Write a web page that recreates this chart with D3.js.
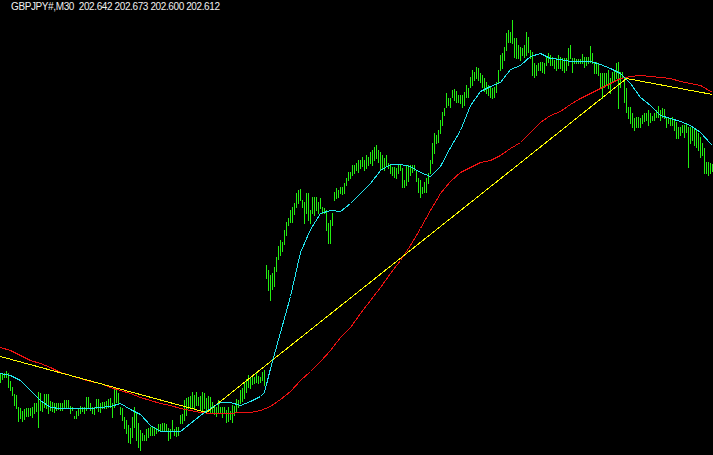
<!DOCTYPE html>
<html><head><meta charset="utf-8">
<script src="https://cdn.jsdelivr.net/npm/d3@7"></script>
<style>html,body{margin:0;padding:0;background:#000;overflow:hidden}</style>
</head><body>
<svg id="c" width="713" height="455"></svg>
<script>
const title = "GBPJPY#,M30  202.642 202.673 202.600 202.612";
const barHigh = [
200.58,200.58,200.58,200.60,200.58,200.50,200.44,200.37,200.36,200.24,
200.23,200.20,200.22,200.23,200.23,200.23,200.24,200.28,200.28,200.39,
200.38,200.29,200.37,200.37,200.37,200.30,200.29,200.28,200.28,200.28,
200.28,200.28,200.31,200.31,200.31,200.25,200.24,200.15,200.20,200.23,
200.25,200.24,200.24,200.34,200.34,200.28,200.24,200.24,200.32,200.32,
200.28,200.29,200.29,200.30,200.32,200.33,200.28,200.44,200.43,200.38,
200.24,200.23,200.14,200.11,200.06,200.03,200.14,200.24,200.18,200.08,
200.01,199.98,199.96,200.02,200.03,200.04,200.04,200.03,200.03,200.07,
200.07,200.08,200.08,200.07,200.03,200.02,200.11,200.02,200.04,200.04,
200.16,200.17,200.31,200.33,200.34,200.35,200.39,200.36,200.39,200.34,
200.35,200.39,200.38,200.33,200.35,200.34,200.29,200.26,200.24,200.31,
200.24,200.24,200.24,200.21,200.24,200.20,200.26,200.25,200.32,200.31,
200.41,200.43,200.48,200.52,200.56,200.54,200.55,200.54,200.58,200.55,
200.54,200.59,200.61,201.66,201.61,201.56,201.58,201.64,201.74,201.85,
201.91,201.89,202.01,202.09,202.13,202.21,202.24,202.28,202.38,202.41,
202.42,202.31,202.29,202.38,202.38,202.21,202.34,202.34,202.34,202.29,
202.33,202.24,202.23,202.21,202.08,202.11,202.18,202.39,202.43,202.41,
202.44,202.44,202.48,202.53,202.59,202.59,202.66,202.66,202.68,202.71,
202.71,202.74,202.71,202.76,202.74,202.79,202.81,202.84,202.86,202.81,
202.79,202.76,202.73,202.76,202.68,202.66,202.64,202.64,202.63,202.67,
202.67,202.63,202.51,202.66,202.66,202.66,202.66,202.66,202.61,202.53,
202.51,202.44,202.49,202.53,202.58,202.71,202.88,202.98,202.96,203.01,
203.11,203.19,203.23,203.38,203.33,203.33,203.41,203.42,203.40,203.36,
203.36,203.36,203.39,203.46,203.43,203.54,203.61,203.59,203.64,203.63,
203.58,203.56,203.53,203.49,203.46,203.44,203.43,203.44,203.49,203.61,
203.76,203.78,203.84,203.98,204.01,203.99,204.11,203.93,203.93,203.86,
203.84,203.83,203.86,203.99,203.94,203.81,203.79,203.68,203.66,203.68,
203.69,203.69,203.68,203.74,203.78,203.76,203.74,203.71,203.73,203.76,
203.74,203.73,203.73,203.73,203.83,203.86,203.73,203.73,203.72,203.72,
203.72,203.77,203.74,203.74,203.74,203.85,203.78,203.69,203.69,203.68,
203.58,203.58,203.58,203.58,203.61,203.53,203.59,203.61,203.68,203.69,
203.59,203.59,203.54,203.43,203.24,203.24,203.18,203.13,203.14,203.14,
203.13,203.16,203.18,203.18,203.21,203.18,203.15,203.18,203.21,203.25,
203.21,203.23,203.22,203.14,203.13,203.13,203.14,203.11,203.09,203.04,
203.04,203.06,203.06,203.08,203.04,203.04,203.04,203.03,203.01,202.98,
202.94,202.88,202.83,202.69,202.69,202.68,202.673];
const barLow = [
200.49,200.52,200.54,200.54,200.44,200.41,200.36,200.26,200.23,200.10,
200.13,200.10,200.12,200.15,200.15,200.16,200.14,200.18,200.20,200.04,
200.21,200.20,200.24,200.23,200.18,200.21,200.20,200.19,200.21,200.22,
200.21,200.21,200.23,200.24,200.24,200.18,200.21,200.13,200.13,200.16,
200.18,200.20,200.18,200.21,200.23,200.21,200.18,200.17,200.23,200.20,
200.19,200.23,200.23,200.23,200.24,200.24,200.14,200.24,200.29,200.28,
200.17,200.11,200.03,199.98,199.89,199.88,199.94,200.04,199.91,199.84,
199.81,199.91,199.91,199.91,199.94,199.96,199.96,199.96,199.98,200.00,
200.01,200.01,200.01,200.00,199.91,199.93,200.00,199.96,199.95,199.96,
200.08,200.08,200.11,200.16,200.23,200.24,200.24,200.23,200.26,200.26,
200.21,200.19,200.23,200.21,200.23,200.19,200.19,200.17,200.15,200.19,
200.18,200.14,200.18,200.09,200.10,200.12,200.09,200.16,200.19,200.24,
200.28,200.30,200.33,200.39,200.44,200.43,200.47,200.48,200.49,200.48,
200.49,200.51,200.46,201.53,201.41,201.31,201.42,201.45,201.60,201.72,
201.76,201.80,201.87,201.96,202.06,202.09,202.09,202.17,202.24,202.28,
202.31,202.24,202.08,202.18,202.11,202.08,202.18,202.16,202.21,202.18,
202.23,202.18,202.18,202.01,201.88,201.88,202.06,202.31,202.33,202.34,
202.38,202.37,202.38,202.46,202.51,202.53,202.56,202.58,202.61,202.59,
202.63,202.65,202.61,202.63,202.66,202.68,202.66,202.71,202.73,202.69,
202.61,202.63,202.61,202.66,202.63,202.58,202.56,202.54,202.53,202.58,
202.61,202.44,202.44,202.46,202.50,202.56,202.59,202.61,202.50,202.39,
202.34,202.38,202.39,202.39,202.48,202.58,202.68,202.78,202.88,202.89,
202.98,203.06,203.16,203.24,203.26,203.24,203.34,203.31,203.29,203.29,
203.28,203.24,203.26,203.34,203.34,203.44,203.46,203.51,203.53,203.51,
203.49,203.44,203.40,203.38,203.36,203.34,203.33,203.34,203.39,203.49,
203.61,203.63,203.71,203.81,203.89,203.89,203.88,203.74,203.73,203.73,
203.71,203.76,203.74,203.76,203.79,203.73,203.56,203.54,203.56,203.61,
203.61,203.59,203.58,203.66,203.69,203.66,203.66,203.63,203.61,203.63,
203.63,203.61,203.59,203.61,203.66,203.73,203.59,203.68,203.68,203.68,
203.68,203.68,203.64,203.66,203.68,203.69,203.68,203.58,203.58,203.56,
203.44,203.33,203.44,203.46,203.43,203.38,203.49,203.51,203.53,203.23,
203.44,203.53,203.29,203.19,203.13,203.08,203.04,203.01,203.04,203.04,
203.04,203.08,203.10,203.11,203.06,203.09,203.11,203.11,203.14,203.14,
203.11,203.14,203.13,203.04,203.08,203.06,203.06,203.01,202.93,202.93,
202.96,202.99,202.94,202.99,202.64,202.88,202.91,202.86,202.84,202.81,
202.74,202.76,202.58,202.58,202.56,202.58,202.600];

const fastMaIdx = [0,5,10,15,20,25,30,35,40,45,50,55,60,65,70,75,80,85,90,95,100,105,110,115,120,125,130,132,133,135,
140,145,150,155,160,165,170,175,180,185,190,195,200,205,210,215,220,225,230,235,240,245,250,255,260,265,270,275,280,285,
290,295,300,305,310,315,320,325,330,335,340,345,350,355,356];
const fastMaVal = [200.58,200.56,200.51,200.41,200.31,200.24,200.23,200.23,200.23,200.23,200.24,200.25,200.28,200.22,200.17,
200.06,200.00,200.00,200.00,200.08,200.16,200.23,200.29,200.29,200.26,200.30,200.35,200.39,200.47,200.63,
200.99,201.35,201.79,202.02,202.18,202.21,202.20,202.28,202.38,202.48,202.61,202.67,202.67,202.65,202.59,202.55,
202.65,202.84,203.01,203.26,203.40,203.45,203.49,203.62,203.66,203.75,203.78,203.73,203.72,203.70,203.70,203.70,
203.67,203.63,203.58,203.48,203.34,203.26,203.16,203.13,203.10,203.06,202.99,202.88,202.86];

const slowMaIdx = [0,5,10,15,20,25,30,35,40,45,50,55,60,65,70,75,80,85,90,95,100,105,110,115,120,125,130,135,140,145,
150,155,160,165,170,175,180,185,190,195,200,205,210,215,220,225,230,235,240,245,250,255,260,265,270,275,280,285,290,295,
300,305,310,315,320,325,330,335,340,345,350,356];
const slowMaVal = [200.84,200.81,200.76,200.71,200.68,200.64,200.59,200.56,200.53,200.50,200.48,200.44,200.41,200.38,200.34,
200.31,200.28,200.26,200.23,200.21,200.19,200.18,200.18,200.18,200.19,200.19,200.21,200.25,200.32,200.40,
200.51,200.60,200.70,200.81,200.94,201.04,201.18,201.31,201.44,201.58,201.71,201.86,202.03,202.21,202.38,
202.50,202.59,202.64,202.69,202.71,202.76,202.83,202.89,202.99,203.09,203.16,203.20,203.27,203.33,203.38,
203.43,203.48,203.53,203.55,203.56,203.55,203.54,203.53,203.50,203.48,203.46,203.39];

const zigzagIdx = [0,103,313,356];
const zigzagVal = [200.75,200.19,203.53,203.37];

const W = 713, H = 455;
const svg = d3.select("#c");
svg.append("rect").attr("width",W).attr("height",H).attr("fill","#000");

const x = d3.scaleLinear().domain([0,356]).range([0,712]);
const y = d3.scaleLinear().domain([204.31,199.76]).range([0,455]);

const bars = barHigh.map((h,i)=>({i, h, l: barLow[i]}));
svg.append("g").selectAll("rect").data(bars).join("rect")
  .attr("x", d=>x(d.i))
  .attr("y", d=>Math.round(y(d.h)))
  .attr("width",1)
  .attr("height", d=>Math.max(1, Math.round(y(d.l))-Math.round(y(d.h))+1))
  .attr("fill","#22ee11")
  .attr("shape-rendering","crispEdges");

function drawLine(idx, val, color){
  const pts = idx.map((k,j)=>[k,val[j]]);
  svg.append("path").datum(pts)
    .attr("d", d3.line().x(d=>x(d[0])+0.5).y(d=>y(d[1])+0.5))
    .attr("fill","none").attr("stroke",color).attr("stroke-width",1)
    .attr("shape-rendering","crispEdges");
}
drawLine(slowMaIdx, slowMaVal, "#ee1111");
drawLine(zigzagIdx, zigzagVal, "#ffff00");
drawLine(fastMaIdx, fastMaVal, "#22e6f0");

svg.append("text").attr("x",11).attr("y",9.5)
  .attr("font-family","'Liberation Sans', Arial, sans-serif")
  .attr("font-size","10px").attr("fill","#f0f0f0")
  .attr("textLength",209).attr("lengthAdjust","spacing")
  .style("white-space","pre")
  .text(title);
</script>
</body></html>
